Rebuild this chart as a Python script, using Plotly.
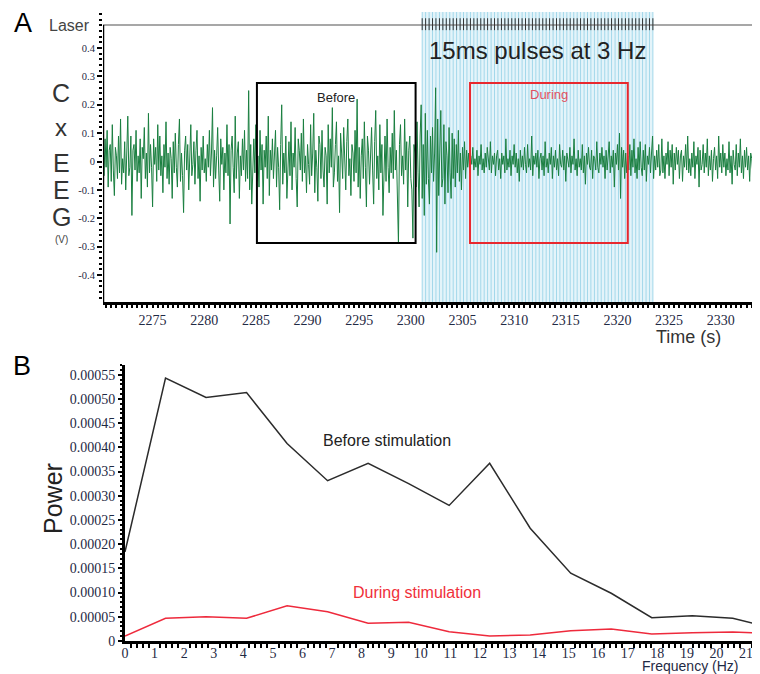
import plotly.graph_objects as go

# ---- panel A: cortical EEG trace (mV), one sample every 0.1 s from 2270.2 s ----
eeg_start = 2270.2
eeg_step = 0.1
eeg_mv = [
    30, -50, 80, -20, 110, -90, 40, 60, -70, 130, -30, -120, 50, 20, -60, 90, -40, 150, -80, 10,
    -40, 70, -100, 30, 160, -50, -20, 90, -190, 40, 60, -30, 110, -70, 20, -40, 80, -130, 50, 10,
    120, -60, 30, -90, 170, -40, 60, -20, -160, 80, -10, 50, -70, 130, -30, 90, -50, 20, -110, 60,
    -20, 140, -60, 30, -80, 50, 10, -130, 70, -40, 100, -20, -90, 60, 150, -70, 30, -50, -180, 40,
    90, -30, 60, -100, 20, 130, -50, -10, 70, -80, 40, 110, -60, 20, -140, 50, -30, 90, -40, 10,
    -70, 60, -20, 110, -50, 30, 190, -90, 40, -60, 20, 120, -30, -140, 80, -10, 50, -100, 30, -40,
    130, -50, 60, -220, 40, 90, -20, -110, 160, -60, 30, 70, -130, 20, -50, 80, -30, 110, -70, 40,
    -60, 250, -100, 60, -150, 30, 80, -40, 130, -70, 20, -90, 110, -30, 60, -150, 40, -20, 90, -60,
    160, -120, 40, -30, 80, -60, 20, 110, -90, 50, -20, -170, 60, 200, -80, 30, -40, 90, -130, 20,
    70, -50, 140, -100, 30, -20, 120, -60, -160, 80, 40, -30, 100, -70, 150, -40, 20, -110, 60, -10,
    -80, 130, -50, 30, 170, -110, 40, -20, -140, 90, 60, -60, 110, -30, -90, 50, 20, -150, 130, -40,
    80, -20, 190, -90, -40, 60, 140, -70, 20, -180, 100, 30, -60, 120, -30, -100, 70, 150, -50, 10,
    -120, 60, 30, -70, 110, -40, 220, -90, 50, -130, 20, 80, -60, 140, -20, -160, 90, 40, -80, 60,
    120, -30, -150, 70, 180, -60, 20, -100, 130, -40, 60, -190, 30, 90, -70, 150, -20, -110, 50, -40,
    100, -60, 180, -30, 40, -120, -290, 60, 130, -50, 20, -80, 150, -30, 70, -160, 40, 90, -60, -100,
    -270, 60, 30, -90, 140, -40, -160, 90, 200, -130, 60, -190, 170, -80, 110, -60, -150, 90, -40, 120,
    -70, 30, 260, -320, 150, -120, 40, 180, -90, -60, 130, -150, 70, 20, -110, 120, -40, -130, 100, -60,
    80, -90, 60, -40, 110, -70, 30, -100, 50, -30, 70, -60, 40, -20, 30, -40, 20, -10, 50, -30,
    10, -20, 40, -50, 20, -10, 60, -30, 10, -40, 30, -20, 50, -10, -30, 70, -40, 20, -10, 30,
    -50, 20, 40, -30, 10, -60, 30, -10, 20, -40, 80, -30, 10, -20, 40, -50, 20, -10, 60, -20,
    30, -40, 10, -70, 40, -20, 20, -30, 50, -10, -40, 60, -20, 10, -30, 90, -50, 20, -10, 30,
    -20, 40, -60, 10, 30, -30, 20, -50, 70, -20, 10, -40, 30, -10, 50, -60, 20, -20, 40, -30,
    10, -50, 60, -10, -20, 40, -30, 20, -70, 30, 10, -20, 50, -40, 20, -10, 80, -30, 10, -50,
    40, -20, 10, -30, 60, -40, 20, -80, 30, -10, 50, -20, -30, 40, -60, 20, 10, -30, 70, -20,
    -40, 30, -10, 50, -20, 20, -60, 40, -30, 10, 70, -40, 20, -20, 40, -90, 30, -10, 60, -30,
    100, -130, 50, -20, 40, -60, 30, -40, 20, -30, 60, -50, 40, -20, 80, -40, 10, -60, 50, -30,
    70, -20, -50, 40, -30, 60, -70, 20, -10, 50, -40, 30, 90, -60, 20, -30, 40, -20, 60, -50,
    -30, 80, -40, 20, -60, 30, -10, 70, -50, 40, -20, 60, -80, 30, -30, 50, -10, 40, -60, 20,
    40, -70, 20, -20, 60, -30, 90, -40, 10, -50, 30, -20, 70, -60, 20, -10, 50, -90, 40, -30,
    -10, 60, -40, 30, -20, 80, -50, 20, -30, 40, -70, 10, 50, -30, 20, -60, 90, -20, 30, -40,
    60, -20, 30, -50, 10, -30, 70, -40, 20, -80, 40, -10, -30, 60, -50, 30, -20, 80, -40, 20,
    -60, 40, -20, 50, -30, 20, -70, 30, 10, -40, 60, -20, 30, -50, 20, -10, 40, -30, 20, -10,
]

pulse_times = [
    2301.10, 2301.43, 2301.77, 2302.10, 2302.43, 2302.77, 2303.10, 2303.43, 2303.77,
    2304.10, 2304.43, 2304.77, 2305.10, 2305.43, 2305.77, 2306.10, 2306.43, 2306.77,
    2307.10, 2307.43, 2307.77, 2308.10, 2308.43, 2308.77, 2309.10, 2309.43, 2309.77,
    2310.10, 2310.43, 2310.77, 2311.10, 2311.43, 2311.77, 2312.10, 2312.43, 2312.77,
    2313.10, 2313.43, 2313.77, 2314.10, 2314.43, 2314.77, 2315.10, 2315.43, 2315.77,
    2316.10, 2316.43, 2316.77, 2317.10, 2317.43, 2317.77, 2318.10, 2318.43, 2318.77,
    2319.10, 2319.43, 2319.77, 2320.10, 2320.43, 2320.77, 2321.10, 2321.43, 2321.77,
    2322.10, 2322.43, 2322.77, 2323.10, 2323.43,
]

before_window = [2285.1, 2300.46]
during_window = [2305.73, 2321.0]
window_volts = [-0.287, 0.277]

eeg_ticks = [0.4, 0.3, 0.2, 0.1, 0, -0.1, -0.2, -0.3, -0.4]
eeg_ticktext = ['0.4', '0.3', '0.2', '0.1', '0', '-0.1', '-0.2', '-0.3', '-0.4']

# ---- panel B: power spectrum ----
freq_hz = [0, 1.37, 2.74, 4.11, 5.48, 6.85, 8.22, 9.59, 10.96,
           12.33, 13.70, 15.07, 16.44, 17.81, 19.18, 20.55, 21.92]
power_before = [0.000184, 0.000543, 0.000503, 0.000513, 0.000408, 0.000331,
                0.000367, 0.000325, 0.000280, 0.000367, 0.000233, 0.000140,
                0.0000986, 0.0000481, 0.0000523, 0.0000469, 0.000026]
power_during = [0.0000103, 0.0000469, 0.0000502, 0.0000469, 0.0000729, 0.0000605,
                0.0000366, 0.0000386, 0.0000192, 0.0000103, 0.0000124, 0.0000213,
                0.0000248, 0.0000145, 0.0000171, 0.0000186, 0.000015]

power_ticks = [0, 0.00005, 0.0001, 0.00015, 0.0002, 0.00025, 0.0003,
               0.00035, 0.0004, 0.00045, 0.0005, 0.00055]
power_ticktext = ['0', '0.00005', '0.00010', '0.00015', '0.00020', '0.00025',
                  '0.00030', '0.00035', '0.00040', '0.00045', '0.00050', '0.00055']

# the page body has an 8px margin, so the figure is 8px smaller each way
OFF = 8
W, H = 760 - OFF, 674 - OFF
XA = [2270.2, 2333.8]
YA = [-0.495, 0.527]
LASER_Y = 0.481


def px(x):
    return (x - OFF) / W


def py(y):
    return 1 - (y - OFF) / H


eeg_t = [eeg_start + i * eeg_step for i in range(len(eeg_mv))]
eeg_v = [v / 1000 for v in eeg_mv]

fig = go.Figure()

# light blue stimulation band + one line per pulse
blue_x, blue_y, tick_x, tick_y = [], [], [], []
for t in pulse_times:
    blue_x += [t, t, None]
    blue_y += [YA[0], YA[1], None]
    tick_x += [t, t, None]
    tick_y += [0.463, 0.505, None]

fig.add_shape(type='rect', xref='x', yref='y', x0=pulse_times[0], x1=pulse_times[-1],
              y0=YA[0], y1=YA[1], fillcolor='#e4f4fa', line_width=0, layer='below')
fig.add_trace(go.Scatter(x=blue_x, y=blue_y, mode='lines',
                         line=dict(color='#a3d8ea', width=1), hoverinfo='skip'))
fig.add_trace(go.Scatter(x=eeg_t, y=eeg_v, mode='lines',
                         line=dict(color='#1a7f40', width=1)))
# laser channel
fig.add_trace(go.Scatter(x=XA, y=[LASER_Y, LASER_Y], mode='lines',
                         line=dict(color='#8a8a8a', width=1.5)))
fig.add_trace(go.Scatter(x=tick_x, y=tick_y, mode='lines',
                         line=dict(color='#333333', width=1), hoverinfo='skip'))

# analysis windows
fig.add_shape(type='rect', xref='x', yref='y', x0=before_window[0], x1=before_window[1],
              y0=window_volts[0], y1=window_volts[1], line=dict(color='black', width=2))
fig.add_shape(type='rect', xref='x', yref='y', x0=during_window[0], x1=during_window[1],
              y0=window_volts[0], y1=window_volts[1], line=dict(color='#e8282e', width=2))
# left spine of panel A stops at the laser line
fig.add_shape(type='line', xref='x', yref='y', x0=XA[0], x1=XA[0],
              y0=YA[0], y1=LASER_Y, line=dict(color='black', width=2.5))

# spectra
fig.add_trace(go.Scatter(x=freq_hz, y=power_before, mode='lines',
                         line=dict(color='#2b2b2b', width=1.5), xaxis='x2', yaxis='y2'))
fig.add_trace(go.Scatter(x=freq_hz, y=power_during, mode='lines',
                         line=dict(color='#ee2a3c', width=1.5), xaxis='x2', yaxis='y2'))

serif_navy = dict(family='Liberation Serif', color='#1f2a44')
fig.update_layout(
    width=W, height=H,
    margin=dict(l=0, r=0, t=0, b=0),
    paper_bgcolor='white', plot_bgcolor='white',
    showlegend=False,
    xaxis=dict(domain=[px(103), 1], range=XA, anchor='y',
               showline=True, linecolor='black', linewidth=2.5, showgrid=False, zeroline=False,
               ticks='outside', ticklen=3, tickwidth=2, tickcolor='black',
               tick0=2275, dtick=5, tickfont=dict(size=14, **serif_navy),
               minor=dict(dtick=0.5, ticks='outside', ticklen=3, tickcolor='black', showgrid=False),
               automargin=False),
    yaxis=dict(domain=[py(302), py(12)], range=YA, anchor='x',
               showline=False, showgrid=False, zeroline=False,
               tickvals=eeg_ticks, ticktext=eeg_ticktext,
               ticks='outside', ticklen=5, tickwidth=1.5, tickcolor='black',
               tickfont=dict(size=10.5, **serif_navy),
               minor=dict(dtick=0.02, ticks='outside', ticklen=3, tickcolor='black'),
               automargin=False),
    xaxis2=dict(domain=[px(125), 1], range=[0, 21.47], anchor='y2',
                showline=True, linecolor='black', linewidth=3, showgrid=False, zeroline=False,
                ticks='', tick0=0, dtick=1, tickfont=dict(size=14, **serif_navy),
                ticklabelstandoff=-3,
                minor=dict(dtick=0.2, ticks='outside', ticklen=4, tickwidth=1.5,
                           tickcolor='black', showgrid=False),
                automargin=False),
    yaxis2=dict(domain=[py(641), py(365)], range=[0, 0.00057], anchor='x2',
                showline=True, linecolor='black', linewidth=3, showgrid=False, zeroline=False,
                tickvals=power_ticks, ticktext=power_ticktext,
                ticks='outside', ticklen=4, tickwidth=2, tickcolor='black',
                tickfont=dict(size=14, **serif_navy),
                minor=dict(dtick=0.00001, ticks='outside', ticklen=2, tickcolor='black'),
                automargin=False),
)

sans = 'Liberation Sans'
notes = [
    dict(text='A', x=23, y=23, size=27, color='black'),
    dict(text='B', x=22, y=366, size=27, color='black'),
    dict(text='Laser', x=70, y=26, size=16, color='#444444'),
    dict(text='C', x=61, y=93, size=25, color='#333333'),
    dict(text='x', x=61, y=127, size=24, color='#333333'),
    dict(text='E', x=61, y=163, size=25, color='#333333'),
    dict(text='E', x=61, y=190, size=25, color='#333333'),
    dict(text='G', x=61, y=217, size=25, color='#333333'),
    dict(text='(V)', x=61, y=240, size=10, color='#444444'),
    dict(text='Time (s)', x=688, y=337, size=18, color='#333333'),
    dict(text='Frequency (Hz)', x=690, y=666, size=14, color='#1f2a44'),
]
for n in notes:
    fig.add_annotation(text=n['text'], x=px(n['x']), y=py(n['y']), xref='paper', yref='paper',
                       showarrow=False, xanchor='center', yanchor='middle',
                       font=dict(family=sans, size=n['size'], color=n['color']))

fig.add_annotation(text='Power', x=px(53), y=py(499), xref='paper', yref='paper',
                   showarrow=False, textangle=-90, xanchor='center', yanchor='middle',
                   font=dict(family=sans, size=25, color='#222222'))

fig.add_annotation(text='15ms pulses at 3 Hz', x=2312.3, y=0.392, xref='x', yref='y',
                   showarrow=False, font=dict(family=sans, size=24, color='#222222'))
fig.add_annotation(text='Before', x=sum(before_window) / 2, y=0.227, xref='x', yref='y',
                   showarrow=False, font=dict(family=sans, size=13, color='#222222'))
fig.add_annotation(text='During', x=sum(during_window) / 2, y=0.237, xref='x', yref='y',
                   showarrow=False, font=dict(family=sans, size=13, color='#e05060'))
fig.add_annotation(text='Before stimulation', x=8.85, y=0.000415, xref='x2', yref='y2',
                   showarrow=False, font=dict(family=sans, size=16, color='#222222'))
fig.add_annotation(text='During stimulation', x=9.88, y=0.000101, xref='x2', yref='y2',
                   showarrow=False, font=dict(family=sans, size=16, color='#f0303a'))

fig.write_html('out.html')
